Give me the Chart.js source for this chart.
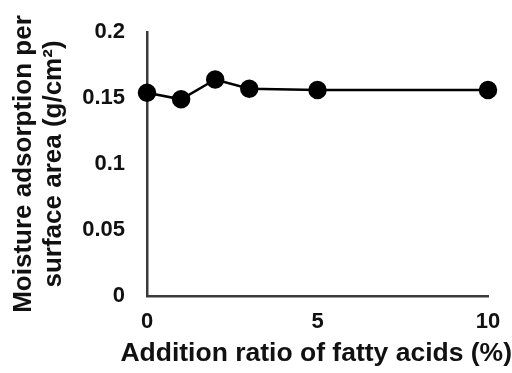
<!DOCTYPE html>
<html>
<head>
<meta charset="utf-8">
<script src="https://cdn.jsdelivr.net/npm/chart.js@4"></script>
<style>
html,body{margin:0;padding:0;background:#fff;}
#wrap{width:512px;height:373px;position:relative;}
</style>
</head>
<body>
<div id="wrap"><canvas id="c" width="512" height="373"></canvas></div>
<script>
const xValues = [0, 1, 2, 3, 5, 10];
const yValues = [0.154, 0.149, 0.164, 0.157, 0.156, 0.156];
const xTicks = [0, 5, 10];
const yTicks = [0, 0.05, 0.1, 0.15, 0.2];
const xTitle = "Addition ratio of fatty acids (%)";
const yTitle = ["Moisture adsorption per", "surface area (g/cm\u00B2)"];

const FONT = "'Liberation Sans', Arial, Helvetica, sans-serif";
const axisColor = '#3a3a3a';

new Chart(document.getElementById('c'), {
  type: 'line',
  data: {
    datasets: [{
      data: xValues.map((x, i) => ({x: x, y: yValues[i]})),
      borderColor: '#000',
      backgroundColor: '#000',
      borderWidth: 2.5,
      pointRadius: 8,
      pointBackgroundColor: '#000',
      pointBorderColor: '#000',
      tension: 0,
      clip: false
    }]
  },
  options: {
    responsive: false,
    animation: false,
    devicePixelRatio: 1,
    layout: { padding: { top: 32, right: 0, left: 0, bottom: 0 } },
    plugins: {
      legend: { display: false },
      tooltip: { enabled: false },
      title: {
        display: true, position: 'bottom', align: 'end', text: xTitle, color: '#111',
        font: { family: FONT, size: 26.5, weight: 'bold', lineHeight: 1.2 },
        padding: { top: 0, bottom: 3 }
      }
    },
    scales: {
      x: {
        type: 'linear',
        min: 0, max: 10,
        afterBuildTicks: s => { s.ticks = xTicks.map(v => ({value: v})); },
        afterFit: s => { s.height = 42.2; s.paddingLeft = 0; s.paddingRight = 24; },
        grid: { display: false, drawTicks: false },
        border: { display: true, color: axisColor, width: 2.5 },
        ticks: { color: '#111', padding: 13, font: { family: FONT, size: 22, weight: 'bold' }, maxRotation: 0 },
        title: { display: false }
      },
      y: {
        min: 0, max: 0.2,
        afterBuildTicks: s => { s.ticks = yTicks.map(v => ({value: v})); },
        afterFit: s => { s.width = 147; s.paddingTop = 0; s.paddingBottom = 0; },
        grid: { display: false, drawTicks: false },
        border: { display: true, color: axisColor, width: 2.5 },
        ticks: { color: '#111', padding: 22, font: { family: FONT, size: 22, weight: 'bold' },
                 callback: v => String(v) },
        title: { display: true, text: yTitle, color: '#111', font: { family: FONT, size: 26, weight: 'bold', lineHeight: 1.154 }, padding: { top: 9, bottom: 0 } }
      }
    }
  }
});
</script>
</body>
</html>
